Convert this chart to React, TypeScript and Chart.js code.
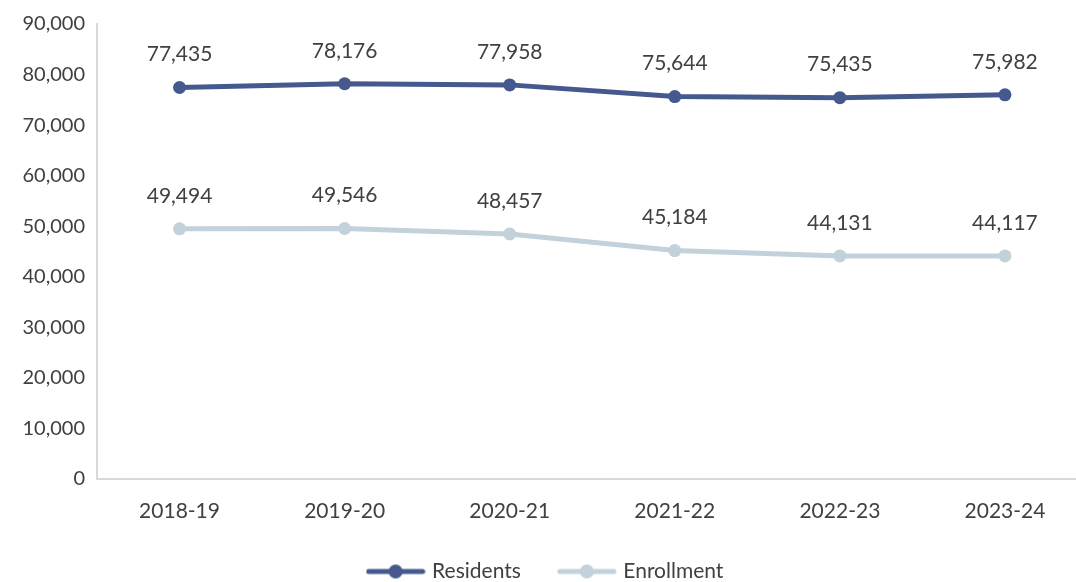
import React, { useEffect, useRef } from "react";
import { Chart, registerables } from "chart.js";

Chart.register(...registerables);

const categories = ["2018-19", "2019-20", "2020-21", "2021-22", "2022-23", "2023-24"];
const residents = [77435, 78176, 77958, 75644, 75435, 75982];
const enrollment = [49494, 49546, 48457, 45184, 44131, 44117];
const yTicks = [0, 10000, 20000, 30000, 40000, 50000, 60000, 70000, 80000, 90000];

const FONT = "Lato, 'Open Sans', sans-serif";
const RES_COLOR = "#45598f";
const ENR_COLOR = "#c3d1da";
const TEXT_COLOR = "#404040";

function legendIcon(color: string): HTMLCanvasElement {
  const c = document.createElement("canvas");
  c.width = 60;
  c.height = 16;
  const ctx = c.getContext("2d")!;
  ctx.strokeStyle = color;
  ctx.lineWidth = 5;
  ctx.lineCap = "round";
  ctx.beginPath();
  ctx.moveTo(3, 8);
  ctx.lineTo(57, 8);
  ctx.stroke();
  ctx.fillStyle = color;
  ctx.beginPath();
  ctx.arc(30, 8, 7, 0, Math.PI * 2);
  ctx.fill();
  return c;
}

const dataLabels = {
  id: "dataLabels",
  afterDatasetsDraw(chart: any) {
    const ctx = chart.ctx;
    ctx.save();
    ctx.font = `21px ${FONT}`;
    ctx.fillStyle = TEXT_COLOR;
    ctx.textAlign = "center";
    ctx.textBaseline = "middle";
    chart.data.datasets.forEach((ds: any, i: number) => {
      const meta = chart.getDatasetMeta(i);
      meta.data.forEach((pt: any, j: number) => {
        const v = ds.data[j] as number;
        ctx.fillText(v.toLocaleString("en-US"), pt.x, pt.y - 33);
      });
    });
    ctx.restore();
  },
};

export default function App() {
  const ref = useRef<HTMLCanvasElement | null>(null);
  useEffect(() => {
    document.body.style.margin = "0";
    const icons = [legendIcon(RES_COLOR), legendIcon(ENR_COLOR)];
    const chart = new Chart(ref.current!, {
      type: "line",
      data: {
        labels: categories,
        datasets: [
          {
            label: "Residents",
            data: residents,
            borderColor: RES_COLOR,
            backgroundColor: RES_COLOR,
            borderWidth: 5,
            pointRadius: 6.5,
            pointBackgroundColor: RES_COLOR,
            pointBorderWidth: 0,
            pointStyle: "circle",
          },
          {
            label: "Enrollment",
            data: enrollment,
            borderColor: ENR_COLOR,
            backgroundColor: ENR_COLOR,
            borderWidth: 5,
            pointRadius: 6.5,
            pointBackgroundColor: ENR_COLOR,
            pointBorderWidth: 0,
            pointStyle: "circle",
          },
        ],
      },
      options: {
        animation: false,
        responsive: false,
        maintainAspectRatio: false,
        layout: { padding: { top: 2, right: 1, left: 0, bottom: 0 } },
        plugins: {
          legend: {
            position: "bottom",
            labels: {
              usePointStyle: true,
              pointStyleWidth: 52,
              font: { family: FONT, size: 21 },
              color: TEXT_COLOR,
              padding: 40,
              boxHeight: 16,
              generateLabels: (c: any) =>
                c.data.datasets.map((ds: any, i: number) => ({
                  text: ds.label,
                  fillStyle: ds.borderColor,
                  strokeStyle: ds.borderColor,
                  lineWidth: 0,
                  pointStyle: icons[i],
                  hidden: false,
                  datasetIndex: i,
                  fontColor: TEXT_COLOR,
                })),
            },
          },
          tooltip: { enabled: false },
        },
        scales: {
          x: {
            offset: true,
            afterFit: (s: any) => {
              s.height = 42;
            },
            grid: { display: false, drawTicks: false },
            border: { display: true, color: "#d9d9d9", width: 2 },
            ticks: { font: { family: FONT, size: 21 }, color: TEXT_COLOR, padding: 20 },
          },
          y: {
            min: 0,
            max: 90000,
            afterBuildTicks: (s: any) => {
              s.ticks = yTicks.map((v) => ({ value: v }));
            },
            afterFit: (s: any) => {
              s.width = 97;
            },
            grid: { display: false, drawTicks: false },
            border: { display: true, color: "#d9d9d9", width: 2 },
            ticks: {
              font: { family: FONT, size: 20 },
              color: TEXT_COLOR,
              padding: 12,
              callback: (v: any) => Number(v).toLocaleString("en-US"),
            },
          },
        },
      },
      plugins: [dataLabels],
    });
    return () => chart.destroy();
  }, []);
  return (
    <div style={{ width: 1076, height: 582, overflow: "hidden", position: "relative" }}>
      <canvas ref={ref} width={1094} height={592} style={{ display: "block" }} />
    </div>
  );
}
